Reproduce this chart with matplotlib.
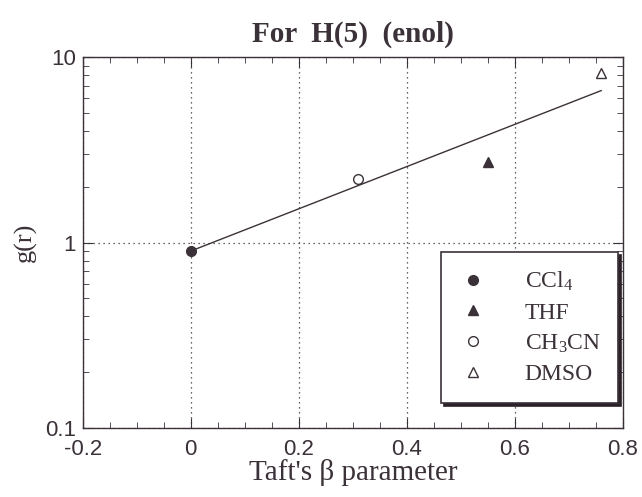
import matplotlib
matplotlib.use("Agg")
import matplotlib.pyplot as plt
from matplotlib.ticker import MultipleLocator, LogLocator, NullFormatter, FixedLocator

# Data
solvents = ["CCl$_4$", "THF", "CH$_3$CN", "DMSO"]
beta = [0.0, 0.55, 0.31, 0.76]
g_r = [0.90, 2.72, 2.21, 8.2]
markers = ["o", "^", "o", "^"]
filled = [True, True, False, False]

# fitted line endpoints
fit_x = [0.0, 0.76]
fit_y = [0.90, 6.6]

x_ticks = [-0.2, 0, 0.2, 0.4, 0.6, 0.8]
x_tick_labels = ["-0.2", "0", "0.2", "0.4", "0.6", "0.8"]
y_ticks = [0.1, 1, 10]
y_tick_labels = ["0.1", "1", "10"]

ink = "#3b3139"
plt.rcParams["mathtext.fontset"] = "custom"
plt.rcParams["mathtext.rm"] = "Liberation Serif"
plt.rcParams["mathtext.it"] = "Liberation Serif"

fig = plt.figure(figsize=(6.42, 4.97), dpi=100)
ax = fig.add_axes([0.129, 0.139, 0.841, 0.746])

ax.plot(fit_x, fit_y, color=ink, lw=1.0, zorder=2)
for x, y, m, f, lab in zip(beta, g_r, markers, filled, solvents):
    ax.plot(x, y, linestyle="none", marker=m, markersize=7,
            markerfacecolor=ink if f else "white", markeredgecolor=ink,
            markeredgewidth=1.0, label=lab, zorder=3)

ax.set_yscale("log")
ax.set_xlim(-0.2, 0.8)
ax.set_ylim(0.1, 10)

ax.xaxis.set_major_locator(FixedLocator(x_ticks))
ax.set_xticklabels(x_tick_labels)
ax.xaxis.set_minor_locator(MultipleLocator(0.05))
ax.yaxis.set_major_locator(FixedLocator(y_ticks))
ax.set_yticklabels(y_tick_labels)
ax.yaxis.set_minor_locator(LogLocator(base=10, subs=range(2, 10)))
ax.yaxis.set_minor_formatter(NullFormatter())

ax.tick_params(which="both", direction="in", top=True, right=True, color=ink)
ax.tick_params(which="major", length=7, labelsize=16, labelcolor=ink)
ax.tick_params(axis="x", which="major", pad=8)
ax.tick_params(axis="y", which="major", pad=5)
ax.tick_params(which="minor", length=4)
for lbl in ax.get_xticklabels() + ax.get_yticklabels():
    lbl.set_family("Liberation Sans")

ax.grid(True, which="major", linestyle=(0, (1, 3)), color=ink, lw=0.9)
for s in ax.spines.values():
    s.set_color(ink)
    s.set_linewidth(1.0)

ax.set_title("For  H(5)  (enol)", family="Liberation Serif", fontsize=21,
             fontweight="bold", color=ink, pad=11)
ax.set_xlabel("Taft's \u03b2 parameter", family="Liberation Serif", fontsize=21,
              color=ink, labelpad=-1)
ax.set_ylabel("g(r)", family="Liberation Serif", fontsize=19, color=ink, labelpad=6)

leg = ax.legend(loc="lower right", bbox_to_anchor=(0.992, 0.067), frameon=True,
                fancybox=False, shadow={"color": "#2a2228", "alpha": 1.0, "ox": 2, "oy": -2},
                prop={"family": "Liberation Serif", "size": 17},
                handletextpad=1.6, borderpad=0.75, labelspacing=0.38, handlelength=1.2,
                borderaxespad=0)
leg.get_frame().set_edgecolor(ink)
leg.get_frame().set_linewidth(1.2)
for t in leg.get_texts():
    t.set_color(ink)

fig.savefig("out.png", dpi=100)
